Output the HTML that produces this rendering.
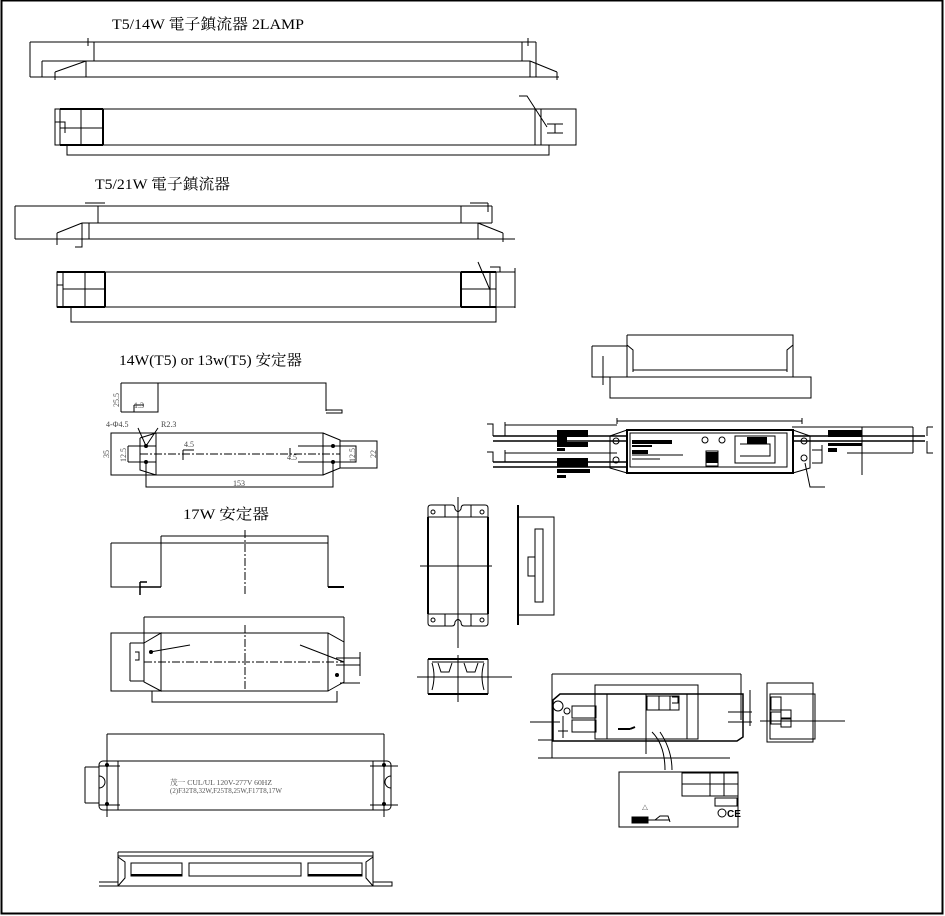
<!DOCTYPE html>
<html><head><meta charset="utf-8"><style>
html,body{margin:0;padding:0;background:#fff;width:945px;height:916px;overflow:hidden}
svg{display:block}
text{font-family:"Liberation Serif","Noto Serif CJK SC","Noto Sans CJK TC",serif;fill:#000}
.t{font-size:15px}
.s{font-size:8px;fill:#444}
</style></head><body>
<svg width="945" height="916" viewBox="0 0 945 916" xmlns="http://www.w3.org/2000/svg" fill="none" stroke="#000" stroke-width="1">
<!-- border -->
<rect x="1.5" y="0.5" width="941" height="913" stroke-width="2"/>

<!-- Titles -->
<text class="t" x="112" y="29" stroke="none" textLength="192" lengthAdjust="spacingAndGlyphs">T5/14W 電子鎮流器 2LAMP</text>
<text class="t" x="95" y="189" stroke="none" textLength="135" lengthAdjust="spacingAndGlyphs">T5/21W 電子鎮流器</text>
<text class="t" x="119" y="365" stroke="none" textLength="183" lengthAdjust="spacingAndGlyphs">14W(T5) or 13w(T5) 安定器</text>
<text class="t" x="183" y="519" stroke="none" textLength="86" lengthAdjust="spacingAndGlyphs">17W  安定器</text>

<!-- Drawing 1 -->
<path d="M30 42H536M30 42V77M30 77H559M42 61H530M42 61V77M86 61V77M94 42V61M522 42V61M530 61V77"/>
<path d="M55 72L86 61M530 61L557 72M55 72V80M557 72V80M536 42V77" />
<path d="M88 38V46M88 42H100M528 38V46M520 42H534"/>
<!-- Drawing 2 -->
<rect x="55" y="109" width="521" height="36"/>
<path d="M60 109V145M81 109V145M103 109V145M60 128H103M535 109V145M541 109V145" />
<path d="M103 109V145" stroke-width="2"/>
<path d="M60 109H103M60 145H103" stroke-width="2"/>
<path d="M519 96L527 96L547 127M547 124H563M547 133H563M555 124V133M576 121V133M55 122H65V133"/>
<path d="M67 145V155H549V145"/>

<!-- Drawing 3 -->
<path d="M15 206H492M15 206V239M15 239H515M82 223H492M89 223V239M98 206V223M478 223V239M461 206V223M492 206V223"/>
<path d="M57 233L82 223M478 223L503 233M503 233V242M57 233V245M75 247H82V223M85 203H105M470 203H488M488 203V212"/>
<!-- Drawing 4 -->
<rect x="57" y="272" width="458" height="35"/>
<path d="M63 272V307M85 272V307M63 289H105M461 272V307M490 272V307M461 289H496M496 272V307"/>
<path d="M105 272V307M461 272V307" stroke-width="2"/>
<path d="M57 272H105M57 307H105M461 272H496M461 307H496" stroke-width="2"/>
<path d="M490 267H500V272M478 262L490 290M71 307V322H496V307M515 268V276M515 298V308M57 285H63V300"/>

<!-- Drawing 5 -->
<path d="M121 383H326V411M121 383V412M121 412H158V383M326 410H342V413H326"/>
<path d="M134 405H144M134 405V412"/>
<text class="s" x="134" y="408" stroke="none">1.3</text>
<text class="s" x="0" y="0" stroke="none" transform="translate(119 407) rotate(-90)">25.5</text>

<!-- Drawing 6 -->
<rect x="111" y="433" width="45" height="42"/>
<path d="M140 438V470L156 475M140 438L156 433M156 433H323V475H156"/>
<path d="M323 433L340 440V468L323 475M340 441H377V468H340"/>
<path d="M140 454H340" stroke-dasharray="8 2 2 2"/>
<path d="M128 446H156M128 462H156M128 446V462M298 446H340M298 462H340M340 446H356V462H340"/>
<path d="M146 462V487H333V462M146 446L138 428M146 446L158 428"/>
<path d="M183 450V460M183 450H194M290 457V448"/>
<g stroke="none" fill="#000"><circle cx="146" cy="446" r="2"/><circle cx="146" cy="462" r="2"/><circle cx="333" cy="446" r="2"/><circle cx="333" cy="462" r="2"/></g>
<text class="s" x="106" y="427" stroke="none">4-Φ4.5</text>
<text class="s" x="161" y="427" stroke="none">R2.3</text>
<text class="s" x="184" y="447" stroke="none">4.5</text>
<text class="s" x="287" y="460" stroke="none">4.5</text>
<text class="s" x="233" y="486" stroke="none">153</text>
<text class="s" x="0" y="0" stroke="none" transform="translate(109 458) rotate(-90)">35</text>
<text class="s" x="0" y="0" stroke="none" transform="translate(126 462) rotate(-90)">12.5</text>
<text class="s" x="0" y="0" stroke="none" transform="translate(355 462) rotate(-90)">12.5</text>
<text class="s" x="0" y="0" stroke="none" transform="translate(376 458) rotate(-90)">22</text>

<!-- Drawing 7 -->
<path d="M111 543H161M111 543V587H161M161 536H328V587M161 536V587M161 543H328M328 587H344"/>
<path d="M140 582V595M140 582H147M140 587H161" stroke-width="1.5"/>
<path d="M328 587H344" stroke-width="2"/>
<path d="M245 530V595" stroke-dasharray="8 2 2 2"/>
<!-- Drawing 8 -->
<path d="M144 617H344M144 617V643M344 617V642"/>
<rect x="111" y="633" width="217" height="58"/>
<path d="M144 643L161 633V691L144 682V643M161 633H328M328 633L344 642V682L328 691"/>
<path d="M130 643H144M130 681H144M130 643V681M135 652H139V660H135"/>
<path d="M152 691V702H337V691"/>
<path d="M245 625V691M144 662H344" stroke-dasharray="8 2 2 2"/>
<path d="M150 652L190 645M300 645L344 662M336 658H360V665H336M360 652V676M340 683H360"/>
<g stroke="none" fill="#000"><circle cx="151" cy="652" r="2"/><circle cx="337" cy="675" r="2"/></g>

<!-- Drawing 9 -->
<path d="M107 734H384M107 734V817M384 734V817"/>
<rect x="99" y="761" width="292" height="49" rx="4"/>
<path d="M118 761V810M373 761V810M85 767H99M85 803H99M85 767V803M99 776A6 6 0 0 1 99 788M391 776A6 6 0 0 0 391 788"/>
<path d="M99 766H120M99 805H120M370 766H398M370 805H398"/>
<g stroke="none" fill="#000"><circle cx="107" cy="765" r="2"/><circle cx="107" cy="804" r="2"/><circle cx="384" cy="765" r="2"/><circle cx="384" cy="804" r="2"/></g>
<text x="170" y="785" stroke="none" style="font-size:7.5px;fill:#555" textLength="102" lengthAdjust="spacingAndGlyphs">茂一 CUL/UL  120V-277V  60HZ</text>
<text x="170" y="793" stroke="none" style="font-size:7px;fill:#555" textLength="112" lengthAdjust="spacingAndGlyphs">(2)F32T8,32W,F25T8,25W,F17T8,17W</text>

<!-- Drawing 10 -->
<path d="M99 886H118M99 882H118V886M118 852H373V886M118 852V882M373 852V886M373 882H392V886H118"/>
<path d="M118 857L125 862V878L118 886M373 857L366 862V878L373 886M118 856H373"/>
<rect x="131" y="863" width="51" height="13"/><rect x="189" y="863" width="112" height="13"/><rect x="308" y="863" width="54" height="13"/>
<path d="M131 875H182M308 875H362" stroke-width="2"/>

<!-- Drawing 11 -->
<path d="M428 517V614M488 517V614" stroke-width="2"/>
<path d="M428 517H488M428 614H488M428 517V508Q428 505 431 505H452Q455 505 455 509Q458 514 461 509Q461 505 464 505H485Q488 505 488 508V517"/>
<path d="M428 614V623Q428 626 431 626H452Q455 626 455 622Q458 617 461 622Q461 626 464 626H485Q488 626 488 623V614"/>
<path d="M445 505V517M471 505V517M445 614V626M471 614V626M458 497V648M420 566H492"/>
<circle cx="433" cy="512" r="2"/><circle cx="482" cy="512" r="2"/><circle cx="433" cy="620" r="2"/><circle cx="482" cy="620" r="2"/>
<!-- Drawing 12 -->
<path d="M518 505V625" stroke-width="2"/>
<rect x="518" y="517" width="36" height="98"/>
<rect x="535" y="529" width="8" height="73"/>
<path d="M528 557H535V576H528Z"/>
<!-- Drawing 13 -->
<path d="M428 659H488M428 694H488" stroke-width="2"/>
<path d="M428 659V694M488 659V694M432 663Q436 676 432 690M484 663Q480 676 484 690M432 662H484M438 663L441 672H449L452 663M464 663L467 672H475L478 663"/>
<path d="M417 677H512M458 655V702"/>

<!-- Drawing 14 -->
<path d="M552 674H741M552 674V758M741 674V720M538 758H730M538 740H553"/>
<path d="M560 694H743V737L737 741H553V700Z" stroke-width="1.5"/>
<rect x="595" y="685" width="103" height="54"/>
<path d="M607 694V739M687 694V739M646 694V754"/>
<rect x="647" y="696" width="32" height="14"/>
<path d="M659 696V710M670 696V710M672 697H678V703H672" />
<rect x="572" y="706" width="24" height="12"/><rect x="572" y="720" width="24" height="12"/>
<circle cx="558" cy="706" r="5"/><circle cx="567" cy="711" r="3"/>
<path d="M530 722H560M563 716V738M558 731H568M728 712H752M728 722H752M750 690V726"/>
<path d="M618 729H630M630 729L635 727" stroke-width="2"/>
<path d="M652 732Q665 745 665 770M660 732Q672 750 672 770"/>
<!-- label -->
<rect x="619" y="772" width="119" height="55"/>
<rect x="682" y="773" width="56" height="23"/>
<path d="M710 773V796M724 773V796M682 784H738"/>
<rect x="715" y="798" width="22" height="8"/>
<circle cx="722" cy="813" r="4"/>
<text x="727" y="817" stroke="none" style="font-size:10px;font-family:'Liberation Sans',sans-serif;font-weight:bold">CE</text>
<text x="642" y="810" stroke="none" style="font-size:6px">△</text>
<rect x="632" y="817" width="16" height="6" fill="#000"/>
<path d="M648 820H670M655 820L660 816H668L670 822"/>
<!-- end view -->
<path d="M767 683H813V742H767Z"/>
<rect x="770" y="694" width="45" height="45"/>
<rect x="771" y="697" width="10" height="13"/><rect x="771" y="712" width="10" height="12"/>
<rect x="781" y="710" width="10" height="9"/><rect x="781" y="718" width="10" height="9"/>
<path d="M813 694V742M760 721H845"/>
<rect x="813" y="694" width="2" height="48" stroke="none"/>

<!-- Drawing 15 -->
<path d="M627 335H793V377M627 335V377M627 345L633 350V372M793 345L787 350V372M633 370H787"/>
<rect x="610" y="377" width="201" height="21"/>
<path d="M592 346H627M592 346V377H610M603 356V385"/>

<!-- Drawing 16 -->
<path d="M617 421H802M617 418V424M802 418V424"/>
<path d="M610 436L627 430H793L810 436V468L793 473H627L610 468Z"/>
<rect x="627" y="430" width="166" height="43" stroke-width="2"/>
<rect x="630" y="433" width="157" height="34"/>
<path d="M493 436H627M493 441H627M493 462H627M493 467H627" stroke-width="1.5"/>
<path d="M505 425H617M505 453H617M487 424H493V436M487 452H493V462M505 422V436M505 450V462"/>
<g fill="#000" stroke="none">
<rect x="557" y="430" width="31" height="7"/><rect x="557" y="437" width="10" height="5"/><rect x="557" y="442" width="31" height="5"/>
<rect x="557" y="448" width="8" height="3"/>
<rect x="557" y="458" width="31" height="9"/><rect x="557" y="469" width="33" height="4"/><rect x="557" y="475" width="9" height="3"/>
<rect x="828" y="430" width="34" height="7"/><rect x="828" y="443" width="34" height="3"/><rect x="828" y="448" width="9" height="4"/>
<rect x="632" y="440" width="40" height="4"/><rect x="632" y="445" width="20" height="2"/><rect x="632" y="450" width="16" height="4"/>
<rect x="706" y="452" width="12" height="11"/>
<rect x="747" y="437" width="20" height="7"/>
</g>
<path d="M632 455H683M632 459H660M706 451H718V466H706Z"/>
<circle cx="705" cy="440" r="3"/><circle cx="722" cy="440" r="3"/>
<path d="M735 436H775V463H735ZM740 444H770V456H740M760 467H775"/>
<circle cx="616" cy="441" r="3"/><circle cx="616" cy="460" r="3"/><circle cx="804" cy="441" r="3"/><circle cx="804" cy="458" r="3"/>
<path d="M793 436H925M793 441H925" stroke-width="1.5"/>
<path d="M792 427H913M847 453H913M913 427V453M862 427V475M812 450H822V463H812M822 445V458M927 427H933M927 427V436M927 441V453H933M805 463L810 487H825"/>
</svg>
</body></html>
